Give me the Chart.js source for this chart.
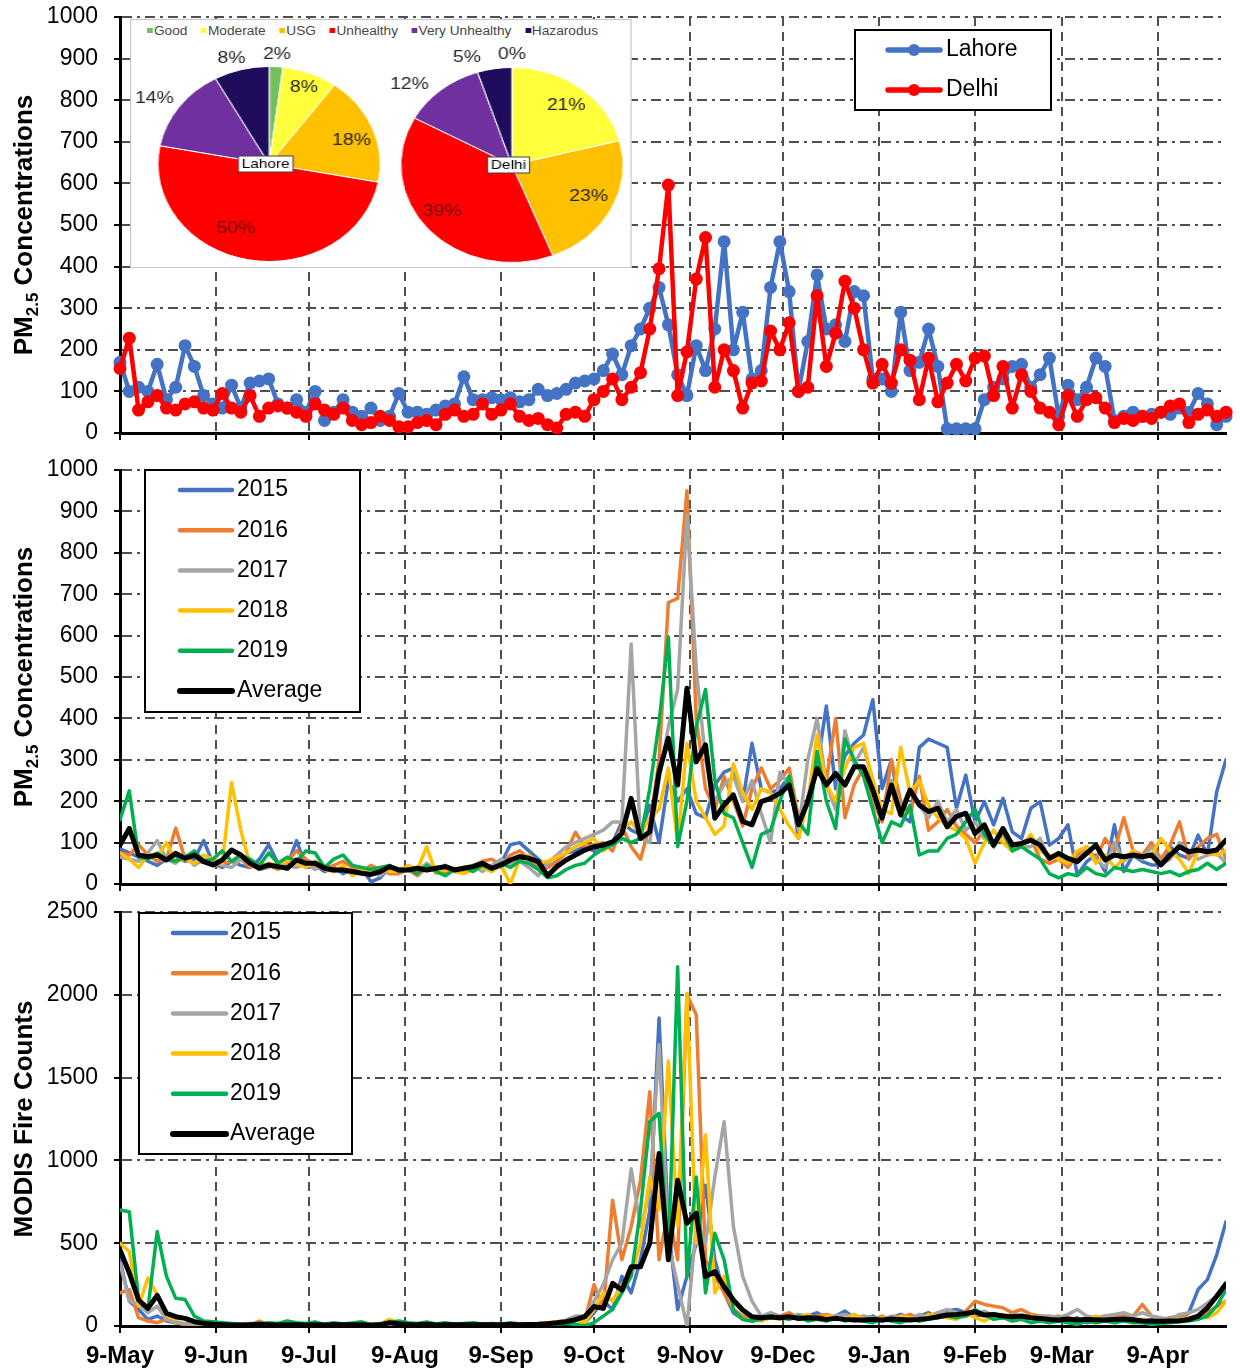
<!DOCTYPE html>
<html>
<head>
<meta charset="utf-8">
<script src="https://cdn.jsdelivr.net/npm/chart.js@4.4.0/dist/chart.umd.min.js"></script>
<style>
  body { margin: 0; background: #fff; width: 1240px; height: 1372px; position: relative; overflow: hidden; font-family: 'Liberation Sans', Arial, sans-serif; }
  .panel { position: absolute; left: 0; }
  #c1 { top: 0; }
  #c2 { top: 450px; }
  #c3 { top: 900px; }
  #inset { position: absolute; left: 130px; top: 19px; width: 440px; height: 249px; box-sizing: border-box; background: #fff; border: 1.5px solid #c4c4c4; transform: scaleX(1.14); transform-origin: 0 0; }
  #pieLegend { position: absolute; left: 14px; top: 4px; display: flex; gap: 12px; font-size: 12px; color: #474747; white-space: nowrap; line-height: 14px; }
  #pieLegend span.m { display: inline-block; width: 5px; height: 5px; margin-right: 1px; vertical-align: 2px; }
  .pie { position: absolute; }
  #pieL { left: -14px; top: 9px; }
  #pieD { left: 199px; top: 10px; }
</style>
</head>
<body>
<canvas id="c1" class="panel" width="1240" height="450"></canvas>
<canvas id="c2" class="panel" width="1240" height="450"></canvas>
<canvas id="c3" class="panel" width="1240" height="472"></canvas>
<div id="inset">
  <div id="pieLegend"></div>
  <canvas id="pieL" class="pie" width="270" height="270"></canvas>
  <canvas id="pieD" class="pie" width="270" height="270"></canvas>
</div>
<script>
// 日期 (距 5月9日 的天数) 与月份刻度
const days = [0,3,6,9,12,15,18,21,24,27, 30,33,36,39,42,45,48,51,54,57,
  60,63,66,69,72,75,78,81,84,87, 90,93,96,99,102,105,108,111,114,117,
  120,123,126,129,132,135,138,141,144,147, 150,153,156,159,162,165,168,171,174,177,
  180,183,186,189,192,195,198,201,204,207, 210,213,216,219,222,225,228,231,234,237,
  240,243,246,249,252,255,258,261,264,267, 270,273,276,279,282,285,288,291,294,297,
  300,303,306,309,312,315,318,321,324,327, 330,333,336,339,342,345,348,351,354,357];
const tickDays = [0, 31, 61, 92, 123, 153, 184, 214, 245, 276, 304, 335];
const monthLabels = ['9-May','9-Jun','9-Jul','9-Aug','9-Sep','9-Oct','9-Nov','9-Dec','9-Jan','9-Feb','9-Mar','9-Apr'];

// 上图: 拉合尔 / 德里 PM2.5
const lahore = [170,100,110,100,165,80,110,210,160,90, 70,60,115,60,120,125,130,70,60,80,
  50,100,30,50,80,50,40,60,30,40, 95,50,50,45,55,65,70,135,80,80,
  85,80,85,75,80,105,90,95,105,120, 125,130,150,190,140,210,250,300,350,260,
  140,90,210,150,250,460,200,290,130,150, 350,460,340,100,220,380,250,260,220,340,
  330,130,130,100,290,150,170,250,160,10, 10,10,10,80,110,130,160,165,110,140,
  180,40,115,80,110,180,160,30,40,50, 40,45,50,45,60,50,95,70,20,40];
const delhi = [155,228,55,75,90,60,55,70,75,60, 55,95,60,50,90,40,60,65,60,50,
  40,70,55,45,60,30,20,25,40,30, 15,15,25,30,20,45,55,40,45,70,
  45,55,70,40,30,35,20,12,45,50, 40,80,100,130,80,110,145,250,395,596,
  90,195,370,470,110,200,150,60,120,125, 245,200,265,100,110,330,160,240,365,300,
  200,120,165,120,200,175,80,180,75,120, 165,125,180,185,90,160,60,140,100,60,
  50,20,90,40,80,85,60,25,35,30, 40,35,50,65,70,25,45,55,40,50];

// 中图: 各年 PM2.5
const pm2015 = [85,75,65,55,45,60,65,55,60,105, 50,40,55,45,40,60,95,50,45,105,
  40,45,30,40,25,35,40,5,15,40, 35,40,30,45,35,45,30,35,40,45,
  40,50,95,100,80,60,40,55,75,80, 90,80,95,100,150,130,120,190,100,250,
  200,230,170,160,240,270,280,200,340,230, 220,230,260,110,210,280,430,230,310,340,
  360,445,230,300,167,150,330,350,340,330, 183,263,150,199,143,207,126,110,183,199,
  94,110,143,22,54,70,30,143,30,70, 54,46,46,90,70,62,118,70,223,300];
const pm2016 = [75,70,95,70,55,60,135,60,50,55, 45,50,55,60,40,50,45,35,55,80,
  60,45,35,45,55,40,30,45,35,25, 25,35,20,40,30,25,35,30,45,55,
  60,45,70,80,60,40,40,55,75,125, 90,95,100,80,140,90,60,140,300,680,
  690,950,400,230,180,260,200,140,230,280, 230,250,280,160,190,300,250,400,160,240,
  280,200,150,300,200,170,260,130,150,180, 140,120,100,130,90,120,80,100,110,60,
  50,60,40,70,90,60,110,80,160,80, 70,100,60,95,150,60,90,110,120,60];
const pm2017 = [65,60,55,75,105,60,50,70,45,60, 55,45,40,60,50,35,40,50,45,40,
  50,35,45,30,40,25,35,30,20,40, 35,40,30,50,35,40,30,40,45,30,
  45,60,50,55,40,20,50,70,90,100, 110,120,130,150,150,580,110,100,250,380,
  470,890,520,300,200,240,260,200,250,170, 100,270,240,130,300,400,240,180,370,290,
  330,250,170,250,180,230,190,160,200,150, 180,130,150,110,100,130,100,90,90,110,
  60,70,50,60,80,60,40,100,55,75, 60,90,50,60,100,80,60,70,75,50];
const pm2018 = [75,60,40,70,65,100,55,60,50,70, 60,50,245,130,45,40,50,45,55,50,
  40,55,35,30,45,20,35,25,40,30, 30,45,35,90,25,35,30,25,35,40,
  30,45,0,60,70,50,55,65,75,90, 100,110,80,100,130,150,120,160,180,280,
  100,340,200,160,120,140,290,220,180,230, 220,180,140,110,200,360,240,200,280,330,
  340,250,180,170,330,220,250,190,160,140, 130,110,50,100,130,100,80,90,120,80,
  70,60,50,80,90,50,70,40,60,80, 65,70,110,80,60,25,80,75,70,80];
const pm2019 = [155,225,65,60,75,60,55,65,80,55, 60,80,55,70,60,45,75,50,65,55,
  80,75,40,60,70,45,40,35,40,45, 30,35,25,45,30,20,35,40,30,45,
  35,50,40,55,50,35,15,20,35,45, 50,70,85,95,110,100,110,230,390,596,
  90,200,380,470,250,170,160,100,40,120, 130,200,260,150,120,320,200,134,350,300,
  260,180,100,150,140,190,70,80,80,110, 120,150,180,120,90,130,80,90,75,60,
  25,15,25,20,40,25,20,40,35,30, 35,30,25,30,20,30,35,50,35,50];
const pmAvg = [94,134,70,66,70,58,74,62,70,54, 46,58,82,70,50,38,46,42,38,58,
  50,50,38,34,34,30,26,23,30,42, 34,34,38,34,38,42,34,38,42,50,
  38,46,58,66,62,54,20,42,58,70, 82,90,94,102,122,207,110,126,270,352,
  239,473,295,336,159,191,215,151,143,199, 207,219,239,143,199,279,239,267,239,283,
  283,227,159,239,167,227,191,175,183,138, 163,171,122,143,94,134,94,98,106,94,
  62,74,62,54,74,94,58,70,66,70, 66,70,46,70,90,78,82,78,82,106];

// 下图: MODIS 火点数
const fire2015 = [400,150,100,40,60,30,20,10,5,5, 5,3,2,4,2,3,2,1,2,3,
  2,3,1,2,4,2,1,3,2,4, 3,2,4,3,5,2,4,3,2,5,
  4,5,3,6,5,8,10,15,20,40, 20,80,150,100,300,200,400,700,1860,600,
  100,300,500,850,400,200,80,40,30,40, 60,50,70,40,60,80,50,60,90,50,
  40,60,30,50,70,40,60,80,50,90, 100,80,60,70,50,60,40,50,60,40,
  30,40,30,50,20,30,40,30,50,40, 30,40,20,30,40,80,220,280,430,630];
const fire2016 = [200,220,50,30,20,40,20,10,5,5, 5,8,4,10,5,30,6,4,3,5,
  5,4,8,6,12,5,4,6,3,8, 6,5,4,8,5,6,10,4,5,6,
  6,8,5,10,8,12,15,20,30,40, 30,250,100,760,400,600,880,1415,400,700,
  400,2000,1880,400,300,200,100,60,40,50, 70,60,80,50,40,60,70,50,40,60,
  50,40,60,30,50,70,40,60,80,70, 60,90,150,130,120,110,80,100,70,60,
  50,60,40,30,50,40,60,50,70,60, 130,60,40,50,60,50,40,80,120,150];
const fire2017 = [380,150,130,80,120,40,20,15,10,5, 5,4,3,2,4,3,2,5,3,2,
  3,5,2,4,3,6,3,2,5,4, 4,3,6,2,5,4,3,6,4,5,
  5,6,8,5,10,8,15,25,35,60, 60,150,250,400,500,950,600,800,1700,500,
  250,0,600,500,900,1234,600,300,150,60, 80,60,50,70,60,40,50,60,70,50,
  60,50,40,60,50,40,70,50,80,100, 80,60,70,90,60,50,70,60,50,60,
  60,50,70,100,60,50,60,70,80,60, 80,60,50,40,70,80,100,140,180,210];
const fire2018 = [500,450,120,290,190,60,40,50,20,10, 8,5,6,4,8,5,10,6,4,5,
  6,4,10,5,6,8,4,5,12,40, 20,8,6,10,5,8,6,12,5,10,
  8,6,10,8,12,15,20,25,30,40, 20,100,200,150,250,300,500,900,700,1600,
  600,2009,500,1153,200,300,100,40,40,30, 50,40,60,50,70,40,60,50,40,70,
  40,30,50,40,60,50,30,70,60,50, 40,80,50,30,60,70,50,40,60,50,
  40,30,50,40,30,60,40,30,50,40, 40,30,20,30,40,50,60,50,80,150];
const fire2019 = [700,690,160,100,570,300,167,160,60,30, 25,20,15,10,15,12,20,15,30,20,
  15,25,10,20,12,18,25,10,15,20, 30,20,15,25,12,20,10,15,20,12,
  15,10,20,12,10,8,10,12,15,10, 0,20,60,100,200,300,700,1234,1284,400,
  2170,300,900,200,560,400,100,40,30,40, 60,50,40,60,30,40,30,50,30,40,
  30,20,40,30,20,40,30,40,50,60, 50,60,100,70,40,50,30,40,20,30,
  20,30,20,10,30,20,30,20,30,20, 20,10,15,20,25,30,40,60,120,220];
const fireAvg = [460,320,157,107,185,76,56,46,26,16, 10,8,6,6,7,11,8,6,8,7,
  6,8,6,7,7,8,7,5,7,20, 13,8,7,10,6,8,7,8,7,8,
  8,7,9,8,9,10,14,19,26,38, 56,117,107,258,217,358,358,500,1042,400,
  880,620,680,298,328,237,157,97,56,50, 55,50,56,46,50,48,40,46,40,36,
  36,40,36,42,40,36,40,46,56,66, 70,76,86,66,70,60,56,60,50,46,
  40,36,42,36,40,38,36,40,42,38, 30,28,28,30,32,40,60,110,180,255];

// 饼图: 空气质量等级占比
const aqiCats = ['Good', 'Moderate', 'USG', 'Unhealthy', 'Very Unhealthy', 'Hazarodus'];
const lahoreShare = [2, 8, 18, 50, 14, 8];
const delhiShare = [0, 21, 23, 39, 12, 5];
const aqiColors = ['#72c05a', '#ffff3c', '#ffc000', '#ff0000', '#7030a0', '#1f0c5c'];

Chart.defaults.font.family = "'Liberation Sans', Arial, sans-serif";
Chart.defaults.color = '#000';

const FONT = "'Liberation Sans', Arial, sans-serif";
const GRID = '#4f4f4f';

// 竖排纵轴标题 (支持下标)
const yTitle = {
  id: 'yTitle',
  afterDraw(chart, args, o) {
    if (!o.parts) return;
    const { ctx, chartArea } = chart;
    const fonts = { big: `bold 26px ${FONT}`, small: `bold 17px ${FONT}` };
    let total = 0;
    const widths = o.parts.map(p => {
      ctx.font = p.sub ? fonts.small : fonts.big;
      const w = ctx.measureText(p.t).width;
      total += w;
      return w;
    });
    ctx.save();
    ctx.translate(o.x, (chartArea.top + chartArea.bottom) / 2);
    ctx.rotate(-Math.PI / 2);
    ctx.fillStyle = '#000';
    ctx.textBaseline = 'alphabetic';
    let x = -total / 2;
    o.parts.forEach((p, i) => {
      ctx.font = p.sub ? fonts.small : fonts.big;
      ctx.fillText(p.t, x, p.sub ? 15 : 9);
      x += widths[i];
    });
    ctx.restore();
  }
};

// 带边框的图例
const boxLegend = {
  id: 'boxLegend',
  afterDraw(chart, args, o) {
    if (!o.labels) return;
    const ctx = chart.ctx;
    ctx.save();
    ctx.fillStyle = '#fff';
    ctx.fillRect(o.x, o.y, o.w, o.h);
    ctx.strokeStyle = '#000';
    ctx.lineWidth = 2;
    ctx.strokeRect(o.x, o.y, o.w, o.h);
    ctx.font = `23px ${FONT}`;
    ctx.textBaseline = 'middle';
    o.labels.forEach((lab, i) => {
      const ds = chart.data.datasets.find(d => d.label === lab);
      const y = o.y + o.first + i * o.gap;
      ctx.strokeStyle = ds.borderColor;
      ctx.lineWidth = ds.borderWidth + 1;
      ctx.lineCap = 'round';
      ctx.beginPath();
      ctx.moveTo(o.lx1, y);
      ctx.lineTo(o.lx2, y);
      ctx.stroke();
      if (ds.pointRadius) {
        ctx.fillStyle = ds.borderColor;
        ctx.beginPath();
        ctx.arc((o.lx1 + o.lx2) / 2, y, 6, 0, Math.PI * 2);
        ctx.fill();
      }
      ctx.fillStyle = '#000';
      ctx.fillText(lab, o.tx, y);
    });
    ctx.restore();
  }
};

// 去掉刻度标签造成的额外内边距, 固定绘图区位置
function noPad(s) {
  s.paddingTop = 0; s.paddingBottom = 0; s.paddingLeft = 0; s.paddingRight = 0;
}

function xScale(showLabels, height) {
  return {
    type: 'linear', min: 0, max: 357,
    afterBuildTicks: s => { s.ticks = tickDays.map(v => ({ value: v })); },
    afterFit: s => { s.height = height; noPad(s); },
    ticks: {
      display: showLabels, autoSkip: false, maxRotation: 0, padding: 9,
      font: { size: 24, weight: 'bold' }, color: '#000',
      callback: (v, i) => monthLabels[i]
    },
    grid: {
      color: c => c.index === 0 ? 'rgba(0,0,0,0)' : GRID,
      lineWidth: 2, tickColor: '#000', tickLength: 7, tickWidth: 2
    },
    border: { color: '#000', width: 3, dash: [9, 6] }
  };
}

function yScale(max, step) {
  return {
    min: 0, max: max,
    afterFit: s => { s.width = 120; noPad(s); },
    ticks: { stepSize: step, padding: 16, font: { size: 23 }, color: '#000', callback: v => String(v) },
    grid: {
      color: c => c.index === 0 ? 'rgba(0,0,0,0)' : GRID,
      lineWidth: 2, tickColor: '#000', tickLength: 6, tickWidth: 2
    },
    border: { color: '#000', width: 3, dash: [10, 5, 3, 5] }
  };
}

function series(label, vals, color, width, order, extra) {
  return Object.assign({
    label: label,
    data: vals.map((v, i) => ({ x: days[i], y: v })),
    borderColor: color, backgroundColor: color,
    borderWidth: width, pointRadius: 0, order: order,
    borderJoinStyle: 'round', borderCapStyle: 'round'
  }, extra || {});
}

function panel(id, datasets, cfg) {
  return new Chart(document.getElementById(id), {
    type: 'line',
    data: { datasets: datasets },
    plugins: [yTitle, boxLegend],
    options: {
      responsive: false, animation: false, events: [],
      layout: { padding: { top: cfg.padTop, right: 14, bottom: 0, left: 0 } },
      plugins: {
        legend: { display: false }, tooltip: { enabled: false },
        yTitle: { x: 23, parts: cfg.title },
        boxLegend: cfg.legend
      },
      scales: { x: xScale(cfg.xLabels, cfg.xHeight), y: yScale(cfg.yMax, cfg.yStep) }
    }
  });
}

const pmTitle = [{ t: 'PM' }, { t: '2.5', sub: true }, { t: ' Concentrations' }];
const markers = { pointRadius: 6.5, pointBorderWidth: 0, clip: false };

panel('c1', [
  series('Delhi', delhi, '#ff0000', 4.5, 0, markers),
  series('Lahore', lahore, '#4472c4', 4.5, 1, markers)
], {
  padTop: 17, xHeight: 17, xLabels: false, yMax: 1000, yStep: 100, title: pmTitle,
  legend: { labels: ['Lahore', 'Delhi'], x: 855, y: 30, w: 196, h: 80, first: 20, gap: 40, lx1: 888, lx2: 940, tx: 946 }
});

const yearLegend = ['2015', '2016', '2017', '2018', '2019', 'Average'];

panel('c2', [
  series('Average', pmAvg, '#000000', 5, 0),
  series('2019', pm2019, '#00b050', 3.5, 1),
  series('2018', pm2018, '#ffc000', 3.5, 2),
  series('2017', pm2017, '#a5a5a5', 3.5, 3),
  series('2016', pm2016, '#ed7d31', 3.5, 4),
  series('2015', pm2015, '#4472c4', 3.5, 5)
], {
  padTop: 20, xHeight: 16, xLabels: false, yMax: 1000, yStep: 100, title: pmTitle,
  legend: { labels: yearLegend, x: 145, y: 20, w: 215, h: 242, first: 20, gap: 40.2, lx1: 180, lx2: 232, tx: 237 }
});

panel('c3', [
  series('Average', fireAvg, '#000000', 5, 0),
  series('2019', fire2019, '#00b050', 3.5, 1),
  series('2018', fire2018, '#ffc000', 3.5, 2),
  series('2017', fire2017, '#a5a5a5', 3.5, 3),
  series('2016', fire2016, '#ed7d31', 3.5, 4),
  series('2015', fire2015, '#4472c4', 3.5, 5)
], {
  padTop: 12, xHeight: 46, xLabels: true, yMax: 2500, yStep: 500, title: [{ t: 'MODIS Fire Counts' }],
  legend: { labels: yearLegend, x: 139, y: 13, w: 213, h: 241, first: 20, gap: 40.2, lx1: 173, lx2: 226, tx: 230 }
});

// 饼图百分比标签与城市名
const pieLabels = {
  id: 'pieLabels',
  afterDatasetsDraw(chart, args, o) {
    const ctx = chart.ctx;
    const meta = chart.getDatasetMeta(0);
    const vals = chart.data.datasets[0].data;
    ctx.save();
    ctx.font = `17px ${FONT}`;
    ctx.textAlign = 'center';
    ctx.textBaseline = 'middle';
    let cx = 0, cy = 0;
    meta.data.forEach((arc, i) => {
      const p = arc.getProps(['x', 'y', 'startAngle', 'endAngle', 'outerRadius'], true);
      cx = p.x; cy = p.y;
      const mid = (p.startAngle + p.endAngle) / 2 + o.shift[i] * Math.PI / 180;
      const r = p.outerRadius * o.radius[i];
      ctx.fillStyle = i === 3 ? '#6e0a0a' : '#262626';
      ctx.fillText(vals[i] + '%', p.x + Math.cos(mid) * r, p.y + Math.sin(mid) * r);
    });
    ctx.font = `13.5px ${FONT}`;
    const w = ctx.measureText(o.name).width + 6;
    ctx.fillStyle = '#fff';
    ctx.fillRect(cx - w / 2 + o.dx, cy - 8, w, 16);
    ctx.strokeStyle = '#404040';
    ctx.lineWidth = 1;
    ctx.strokeRect(cx - w / 2 + o.dx, cy - 8, w, 16);
    ctx.fillStyle = '#000';
    ctx.fillText(o.name, cx + o.dx, cy);
    ctx.restore();
  }
};

function pie(id, name, shares, radius, shift, dx) {
  return new Chart(document.getElementById(id), {
    type: 'pie',
    data: { labels: aqiCats, datasets: [{ data: shares, backgroundColor: aqiColors, borderColor: '#fff', borderWidth: 1 }] },
    plugins: [pieLabels],
    options: {
      responsive: false, animation: false, events: [], radius: 97.5,
      layout: { padding: 0 },
      plugins: { legend: { display: false }, tooltip: { enabled: false }, pieLabels: { radius: radius, shift: shift, name: name, dx: dx } }
    }
  });
}

pie('pieL', 'Lahore', lahoreShare, [1.13, 0.85, 0.78, 0.72, 1.23, 1.14], [0, 0, 3.6, 13.7, -3, -2.8], -3);
pie('pieD', 'Delhi', delhiShare, [1.14, 0.78, 0.76, 0.79, 1.24, 1.18], [0, 1, -2.3, 4, -8.4, -11], -3);

// 饼图图例
const legendBox = document.getElementById('pieLegend');
aqiCats.forEach((c, i) => {
  const item = document.createElement('span');
  item.innerHTML = `<span class="m" style="background:${aqiColors[i]}"></span>${c}`;
  legendBox.appendChild(item);
});
</script>
</body>
</html>
